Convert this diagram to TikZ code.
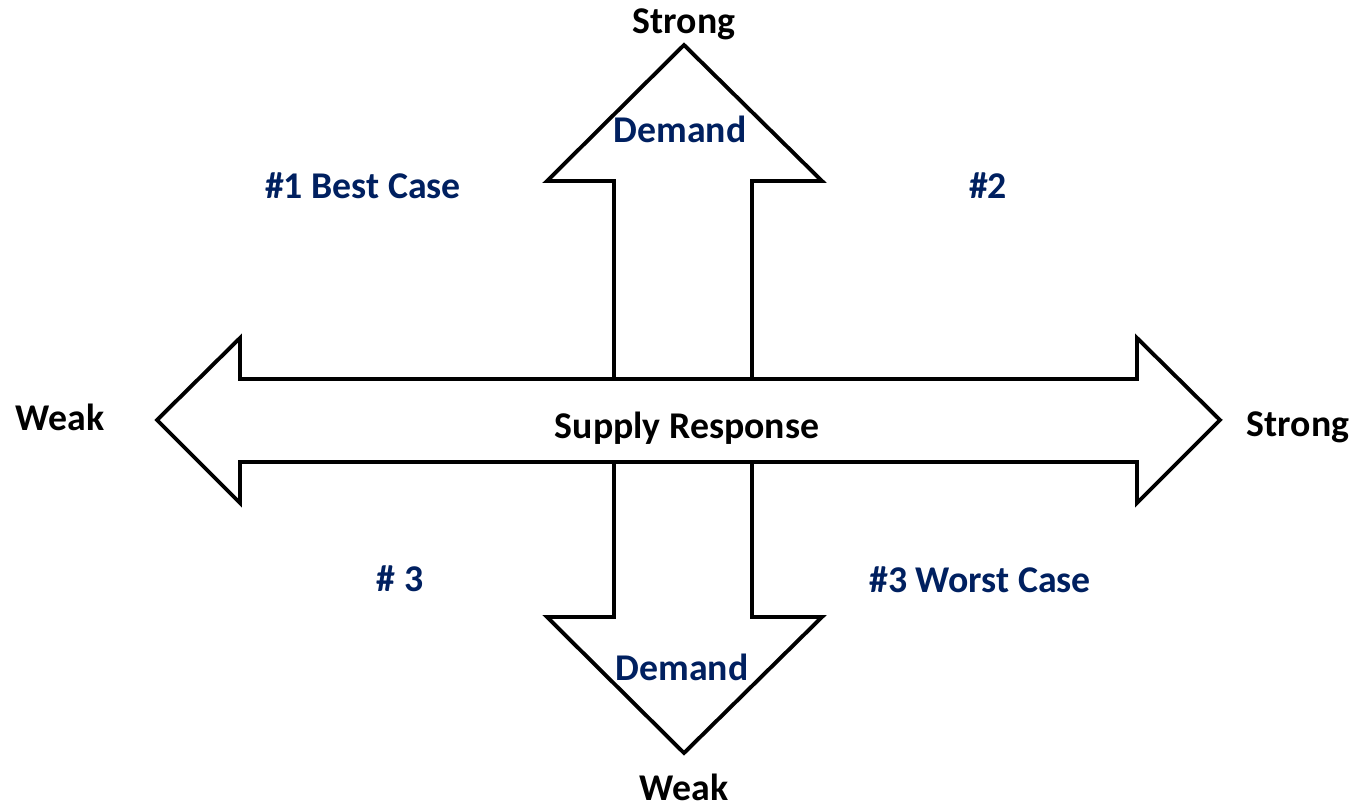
\documentclass[tikz,border=0pt]{standalone}
\usepackage{fontspec}
\setmainfont{Carlito}
\usepackage{tikz}
\usetikzlibrary{calc}

\definecolor{navy}{HTML}{002060}

\begin{document}
\begin{tikzpicture}[x=0.02cm, y=-0.02cm,
    arrowshape/.style={draw=black, fill=white, line width=2.2pt, line join=miter},
    lbl/.style={font=\fontsize{21.5}{24}\selectfont\bfseries, inner sep=0pt, anchor=base},
    caselbl/.style={lbl, text=navy}]

    \useasboundingbox (0,0) rectangle (1357,807);

    % --- Kereslet nyilak (fel es le) ---
    \draw[arrowshape] (614,380) -- (614,181) -- (547,181) -- (684,45)
        -- (822,181) -- (752,181) -- (752,380);
    \draw[arrowshape] (614,460) -- (614,617) -- (547,617) -- (684,753)
        -- (822,617) -- (752,617) -- (752,460);

    % --- Kinalati valasz - vizszintes ketiranyu nyil ---
    \draw[arrowshape] (157,420) -- (240,338) -- (240,379) -- (1137,379)
        -- (1137,338) -- (1220,420) -- (1137,503) -- (1137,462)
        -- (240,462) -- (240,503) -- cycle;

    % --- Feliratok ---
    \node[lbl] (strongtop) at (684,34) {Strong};
    \node[lbl] (weakbottom) at (684,800) {Weak};
    \node[lbl] (weakleft) at (60,431) {Weak};
    \node[lbl] (strongright) at (1298,437) {Strong};
    \node[lbl] (supply) at (687,439) {Supply Response};

    \node[caselbl] (demandup) at (680,143) {Demand};
    \node[caselbl] (demanddown) at (682,681) {Demand};
    \node[caselbl] (case1) at (363,199) {\#1 Best Case};
    \node[caselbl] (case2) at (988,199) {\#2};
    \node[caselbl] (case3) at (400,592) {\# 3};
    \node[caselbl] (case4) at (980,593) {\#3 Worst Case};

\end{tikzpicture}
\end{document}
